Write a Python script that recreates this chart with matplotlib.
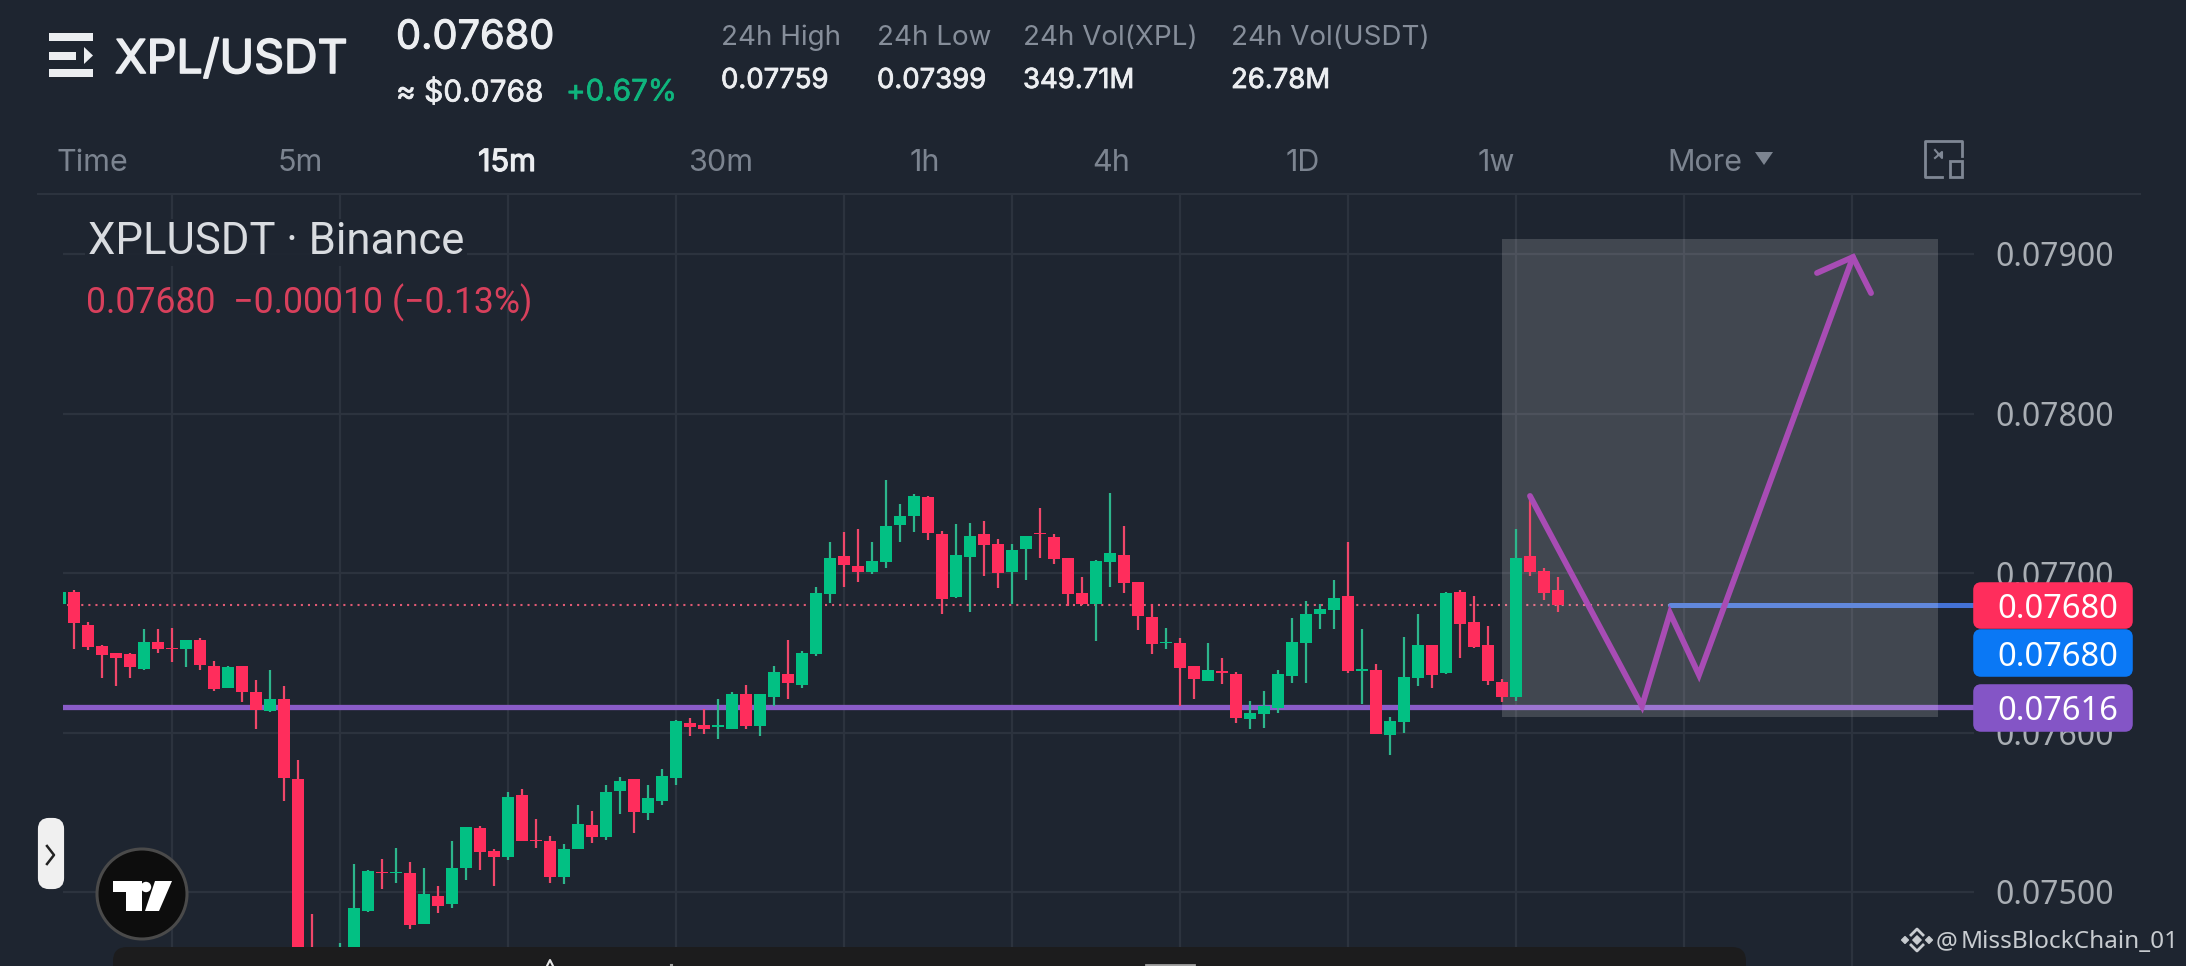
# XPL/USDT 15m candles with the hand drawn trade idea on top
import matplotlib
matplotlib.use("Agg")
import matplotlib.pyplot as plt
import matplotlib.patheffects as pe
from matplotlib.patches import FancyBboxPatch, Rectangle, Circle, Polygon

# prices in millionths
opens = [
    76808, 76883, 76677, 76540, 76496, 76490, 76400, 76565, 76531, 76521,
    76577, 76415, 76281, 76415, 76256, 76136, 76213, 75709, 74560, 74400,
    74250, 74500, 74882, 75125, 75117, 75121, 74800, 74977, 74927, 75152,
    75402, 75259, 75221, 75609, 75329, 75321, 75095, 75271, 75421, 75346,
    75634, 75709, 75496, 75572, 75716, 76058, 76046, 76036, 76021, 76240,
    76040, 76221, 76365, 76300, 76490, 76871, 77108, 77046, 77008, 77071,
    77302, 77358, 77477, 77246, 76850, 77102, 77246, 77183, 77008, 77152,
    77252, 77227, 77096, 76877, 76808, 77071, 77115, 76946, 76727, 76560,
    76558, 76415, 76321, 76383, 76365, 76083, 76115, 76152, 76352, 76558,
    76740, 76771, 76858, 76383, 76390, 75983, 76065, 76340, 76546, 76371,
    76883, 76690, 76546, 76315, 76221, 77108, 77015, 76896,
]
highs = [
    76879, 76896, 76692, 76546, 76496, 76496, 76650, 76650, 76658, 76577,
    76592, 76446, 76415, 76415, 76327, 76390, 76292, 75827, 74861, 74520,
    74682, 75175, 75140, 75209, 75277, 75188, 75152, 75040, 75321, 75409,
    75411, 75271, 75627, 75646, 75459, 75352, 75302, 75546, 75509, 75672,
    75722, 75709, 75672, 75772, 76077, 76090, 76146, 76208, 76256, 76296,
    76244, 76415, 76577, 76508, 76915, 77196, 77258, 77277, 77196, 77583,
    77433, 77496, 77483, 77265, 77308, 77315, 77327, 77215, 77183, 77233,
    77406, 77246, 77096, 76977, 77083, 77504, 77296, 76946, 76808, 76658,
    76590, 76415, 76558, 76465, 76377, 76196, 76258, 76390, 76715, 76827,
    76808, 76958, 77196, 76646, 76427, 76096, 76596, 76746, 76546, 76883,
    76896, 76858, 76665, 76333, 77277, 77496, 77033, 76977,
]
lows = [
    76808, 76525, 76515, 76340, 76294, 76344, 76392, 76496, 76444, 76413,
    76392, 76258, 76277, 76194, 76019, 76127, 75571, 74220, 74300, 73990,
    74200, 74450, 74875, 75021, 75059, 74771, 74800, 74871, 74902, 75077,
    75140, 75040, 75202, 75321, 75277, 75057, 75051, 75271, 75308, 75327,
    75490, 75371, 75452, 75546, 75672, 75975, 75992, 75958, 76021, 76021,
    75977, 76165, 76208, 76277, 76477, 76815, 76915, 76946, 76996, 77033,
    77196, 77260, 77208, 76740, 76846, 76758, 76983, 76908, 76808, 76958,
    77094, 77058, 76790, 76802, 76573, 76915, 76877, 76640, 76492, 76523,
    76165, 76208, 76321, 76304, 76058, 76021, 76027, 76121, 76308, 76313,
    76652, 76646, 76375, 76177, 75990, 75859, 75996, 76290, 76277, 76365,
    76465, 76527, 76296, 76190, 76196, 76983, 76833, 76758,
]
closes = [
    76879, 76685, 76533, 76483, 76469, 76408, 76565, 76521, 76523, 76577,
    76421, 76271, 76408, 76252, 76140, 76213, 75715, 74440, 74400, 74250,
    74500, 74902, 75129, 75117, 75125, 74796, 74990, 74915, 75152, 75409,
    75252, 75221, 75596, 75321, 75321, 75095, 75271, 75427, 75346, 75628,
    75697, 75503, 75590, 75728, 76073, 76033, 76021, 76044, 76240, 76038,
    76240, 76377, 76308, 76496, 76877, 77096, 77052, 77008, 77077, 77296,
    77358, 77483, 77252, 76840, 77115, 77233, 77177, 77002, 77146, 77233,
    77244, 77090, 76871, 76808, 77077, 77127, 76940, 76733, 76552, 76569,
    76402, 76333, 76390, 76375, 76090, 76121, 76165, 76365, 76565, 76746,
    76777, 76846, 76383, 76396, 75990, 76071, 76346, 76546, 76358, 76877,
    76683, 76533, 76321, 76221, 77096, 77008, 76877, 76800,
]

price_ticks = [0.07500, 0.07600, 0.07700, 0.07800, 0.07900]
time_ticks = [8, 20, 32, 44, 56, 68, 80, 92, 104, 116, 128]
last_price = 0.07680
support_price = 0.07616

# the drawing on top: grey box, zigzag, arrow head
box_x = [103.0, 134.14]
box_y = [0.076097, 0.079094]
zig_x = [105, 113, 115, 117.07, 128.07]
zig_y = [0.077483, 0.076166, 0.076749, 0.076361, 0.078981]
head_x = [125.5, 128.07, 129.36]
head_y = [0.078881, 0.078981, 0.078755]
blue_start = 115

tabs = ["5m", "15m", "30m", "1h", "4h", "1D", "1w"]
tab_x = [300, 507, 721, 925, 1111, 1303, 1496]
stat_names = ["24h High", "24h Low", "24h Vol(XPL)", "24h Vol(USDT)"]
stat_values = ["0.07759", "0.07399", "349.71M", "26.78M"]
stat_x = [721, 877, 1023, 1231]

BG = "#1e2530"
GRID = "#2c333e"
GREEN = "#02c083"
RED = "#ff2d5c"
PURPLE = "#8a5cc8"
MAGENTA = "#a84cb4"
W, H = 2186, 966

fig = plt.figure(figsize=(W / 100, H / 100), dpi=100, facecolor=BG)

# main chart, one candle is 14 px wide and 0.001 is 159.5 px
ax = fig.add_axes([63 / W, 0, (1974 - 63) / W, (H - 194) / H], facecolor=BG)
ax.set_xlim((63 - 60) / 14, (1974 - 60) / 14)
ax.set_ylim(0.077 - (966 - 573) / 159500, 0.077 + (573 - 194) / 159500)
for s in ax.spines.values():
    s.set_visible(False)
ax.yaxis.tick_right()
ax.set_yticks(price_ticks)
ax.set_yticklabels([f"{p:.5f}" for p in price_ticks], family="Noto Sans", fontsize=23, color="#a9aeb4",
                   va="center_baseline")
ax.set_xticks(time_ticks)
ax.set_xticklabels([])
ax.tick_params(length=0, pad=15.5)
ax.grid(True, color=GRID, lw=1.6, zorder=1)
ax.set_axisbelow(True)

ax.axhline(support_price, color=PURPLE, lw=3.8, zorder=2)
ax.plot([0, blue_start], [last_price, last_price], color="#e05a74", lw=1.5, ls=(0, (1, 2.4)), zorder=2)
ax.plot([blue_start, 140], [last_price, last_price], color="#4472d6", lw=3.6, zorder=2, solid_capstyle="round")
ax.add_patch(Rectangle((box_x[0], box_y[0]), box_x[1] - box_x[0], box_y[1] - box_y[0],
                       fc="white", alpha=0.155, ec="none", zorder=3))

for i in range(len(opens)):
    up = closes[i] >= opens[i]
    ax.vlines(i, lows[i] / 1e6, highs[i] / 1e6, color="#2db68c" if up else "#f0476a", lw=1.6, zorder=4)
    ax.bar(i, abs(closes[i] - opens[i]) / 1e6, bottom=min(opens[i], closes[i]) / 1e6, width=0.86,
           color=GREEN if up else RED, zorder=5)

ax.plot(zig_x, zig_y, color=MAGENTA, lw=4.2, zorder=6, solid_joinstyle="miter", solid_capstyle="round")
ax.plot(head_x, head_y, color=MAGENTA, lw=4.2, zorder=6, solid_joinstyle="miter", solid_capstyle="round")

# app chrome in plain pixels on a second axes
ov = fig.add_axes([0, 0, 1, 1], zorder=10)
ov.set_xlim(0, W)
ov.set_ylim(H, 0)
ov.axis("off")


def label(x, y, s, size, color, font="Inter", heavy=0, ha="left", **kw):
    t = ov.text(x, y, s, fontsize=size, color=color, family=font, ha=ha, va="center_baseline", **kw)
    # Inter only comes in regular here, thicken it a bit with a stroke
    if heavy:
        t.set_path_effects([pe.withStroke(linewidth=heavy, foreground=color)])
    return t


def tag(y0, y1, fc, s):
    ov.add_patch(FancyBboxPatch((1976, y0 + 3), 154, y1 - y0 - 6, boxstyle="round,pad=0,rounding_size=5",
                                fc=fc, ec=fc, lw=4))
    label(1997, (y0 + y1) / 2, s, 23.5, "white", font="Noto Sans")


# logo
ov.add_patch(Rectangle((49, 33), 44, 8, fc="#eceef1"))
ov.add_patch(Rectangle((49, 52), 27, 8, fc="#eceef1"))
ov.add_patch(Polygon([(84, 47), (93, 55.5), (84, 64)], fc="#eceef1"))
ov.add_patch(Rectangle((49, 69), 44, 8, fc="#eceef1"))

label(115, 56, "XPL/USDT", 33.5, "#eceef1", heavy=1.2)
label(396, 34, "0.07680", 28.6, "#eceef1", heavy=0.8)
label(396, 90, "≈ $0.0768", 21.5, "#eceef1", heavy=0.5)
label(566, 90, "+0.67%", 21.3, "#0fb57d", heavy=0.5)
for x, name, val in zip(stat_x, stat_names, stat_values):
    label(x, 35, name, 20, "#868e9a")
    label(x, 78, val, 19.8, "#eceef1", heavy=0.6)

label(56, 160, "Time", 22, "#7c8490")
for x, t in zip(tab_x, tabs):
    on = t == "15m"
    label(x, 160, t, 22, "#eceef1" if on else "#7c8490", heavy=0.9 if on else 0, ha="center")
label(1667, 160, "More", 22, "#7c8490")
ov.add_patch(Polygon([(1755, 152), (1773, 152), (1764, 165)], fc="#7c8490"))
ov.plot([1942, 1925, 1925, 1962, 1962], [177, 177, 141, 141, 156], color="#7f8794", lw=2)
ov.add_patch(Rectangle((1950, 161), 12, 16, fc="none", ec="#7f8794", lw=2))
ov.plot([1935, 1942, 1942, 1935], [150, 158, 152, 158], color="#7f8794", lw=1.5)
ov.plot([38, 2140], [194, 194], color=GRID, lw=1.5)

bb = dict(fc=BG, ec="none", pad=2, alpha=0.92)
label(88, 238, "XPLUSDT · Binance", 31.4, "#d9dce0", font="Roboto", bbox=bb)
label(86, 299, "0.07680  −0.00010 (−0.13%)", 25.7, "#d8405c", font="Roboto")

tag(582, 629, RED, "0.07680")
tag(629, 677, "#0a78f5", "0.07680")
tag(684, 732, "#8455c6", "0.07616")

# side handle and tradingview badge
ov.add_patch(FancyBboxPatch((40, 820), 22, 67, boxstyle="round,pad=0,rounding_size=9", fc="#f0f0f0", ec="#f0f0f0", lw=3))
ov.plot([47, 54, 47], [846, 855, 864], color="#222222", lw=1.8)
ov.add_patch(Circle((142, 894), 45, fc="#0d0d0d", ec="#4a4a4a", lw=2.2))
ov.add_patch(Polygon([(113, 881), (142, 881), (142, 911), (126, 911), (126, 892), (113, 892)], fc="white"))
ov.add_patch(Circle((146, 887), 5.2, fc="white"))
ov.add_patch(Polygon([(155, 881), (172, 881), (159, 911), (145, 911)], fc="white"))

# bottom bar of the app, the tops of its icons just show
ov.add_patch(FancyBboxPatch((113, 947), 1633, 40, boxstyle="round,pad=0,rounding_size=14", fc="#1c1c1d", ec="none"))
ov.plot([547, 550, 553], [966, 960, 966], color="#e8e8e8", lw=1.5)
ov.plot([671, 672], [965, 965], color="#a0a0a0", lw=1.5)
ov.plot([1146, 1194], [965, 965], color="#a0a0a0", lw=2)

# watermark
ov.plot([1911, 1917, 1923], [935, 929, 935], color="#c8ccd0", lw=2)
ov.plot([1911, 1917, 1923], [945, 951, 945], color="#c8ccd0", lw=2)
ov.scatter([1905, 1917, 1929], [940, 940, 940], marker="D", s=[12, 18, 12], color="#c8ccd0")
label(1936, 939, "@", 17.5, "#c8ccd0", font="Noto Sans")
label(1961, 939, "MissBlockChain_01", 17.5, "#c8ccd0", font="Noto Sans")

fig.savefig("out.png", dpi=100, facecolor=BG)
